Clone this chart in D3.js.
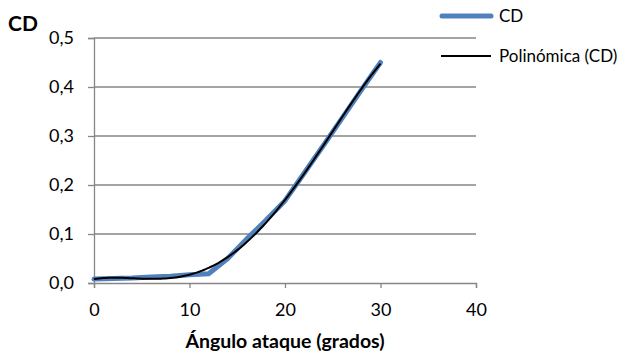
<!DOCTYPE html>
<html>
<head>
<meta charset="utf-8">
<script src="https://cdn.jsdelivr.net/npm/d3@7"></script>
<style>
  html, body { margin: 0; padding: 0; background: #fff; }
  svg { display: block; font-family: Lato, "Open Sans", sans-serif; }
</style>
</head>
<body>
<svg id="chart" width="621" height="356"></svg>
<script>
// Angle of attack (degrees) and measured drag coefficient
const angles = [0, 2, 4, 6, 8, 10, 12, 14, 16, 18, 20, 22, 24, 26, 28, 30];
const cdValues = [0.008, 0.009, 0.010, 0.012, 0.014, 0.017, 0.019, 0.050, 0.090, 0.128, 0.168, 0.224, 0.280, 0.337, 0.394, 0.450];
const xTicks = [0, 10, 20, 30, 40];
const yTicks = [0, 0.1, 0.2, 0.3, 0.4, 0.5];
const seriesName = "CD";
const trendName = "Polinómica (CD)";
const trendOrder = 4;

const svg = d3.select("#chart");
const x = d3.scaleLinear().domain([0, 40]).range([94, 476]);
const y = d3.scaleLinear().domain([0, 0.5]).range([283, 38]);
const fmt = v => d3.format(".1f")(v).replace(".", ",");
const gridColor = "#868686";

// horizontal gridlines
svg.append("g")
  .selectAll("line")
  .data(yTicks.slice(1))
  .join("line")
  .attr("x1", x(0)).attr("x2", x(40))
  .attr("y1", d => y(d)).attr("y2", d => y(d))
  .attr("stroke", gridColor).attr("stroke-width", 1.3);

// y axis
const yAxis = svg.append("g")
  .attr("transform", `translate(${x(0)},0)`)
  .call(d3.axisLeft(y).tickValues(yTicks).tickFormat(fmt).tickSize(6).tickPadding(14));
// x axis
const xAxis = svg.append("g")
  .attr("transform", `translate(0,${y(0)})`)
  .call(d3.axisBottom(x).tickValues(xTicks).tickFormat(d3.format("d")).tickSize(5).tickPadding(15));

[yAxis, xAxis].forEach(g => {
  g.select(".domain").attr("stroke", gridColor).attr("stroke-width", 1.3);
  g.selectAll(".tick line").attr("stroke", gridColor).attr("stroke-width", 1.3);
  g.selectAll(".tick text").attr("fill", "#000").attr("font-size", 18)
    .attr("font-family", "Lato, 'Open Sans', sans-serif");
});

// least-squares polynomial trendline from the measured points
function polyFit(xs, ys, order) {
  const s = 30; // scale x for numerical stability
  const n = order + 1;
  const A = Array.from({length: n}, () => new Array(n + 1).fill(0));
  xs.forEach((xv, k) => {
    const t = xv / s;
    for (let i = 0; i < n; i++) {
      for (let j = 0; j < n; j++) A[i][j] += Math.pow(t, i + j);
      A[i][n] += ys[k] * Math.pow(t, i);
    }
  });
  for (let c = 0; c < n; c++) {
    let p = c;
    for (let r = c + 1; r < n; r++) if (Math.abs(A[r][c]) > Math.abs(A[p][c])) p = r;
    [A[c], A[p]] = [A[p], A[c]];
    for (let r = 0; r < n; r++) {
      if (r === c) continue;
      const f = A[r][c] / A[c][c];
      for (let k = c; k <= n; k++) A[r][k] -= f * A[c][k];
    }
  }
  const coef = A.map((row, i) => row[n] / row[i]);
  return xv => coef.reduce((acc, c, i) => acc + c * Math.pow(xv / s, i), 0);
}
const trend = polyFit(angles, cdValues, trendOrder);
const trendPts = d3.range(0, 30.001, 0.25).map(a => [a, trend(a)]);

const data = angles.map((a, i) => [a, cdValues[i]]);
const line = d3.line().x(d => x(d[0])).y(d => y(d[1]));

svg.append("path").datum(data)
  .attr("d", line).attr("fill", "none")
  .attr("stroke", "#4F81BD").attr("stroke-width", 5)
  .attr("stroke-linejoin", "round").attr("stroke-linecap", "round");

svg.append("path").datum(trendPts)
  .attr("d", line).attr("fill", "none")
  .attr("stroke", "#000").attr("stroke-width", 2);

// axis titles
svg.append("text").attr("x", 8).attr("y", 31)
  .attr("font-size", 21).attr("font-weight", "bold").text(seriesName);
svg.append("text").attr("x", x(20)).attr("y", 348)
  .attr("text-anchor", "middle").attr("font-size", 19.5).attr("font-weight", "bold")
  .text("Ángulo ataque (grados)");

// legend
const legend = svg.append("g");
legend.append("line").attr("x1", 442).attr("x2", 491).attr("y1", 16).attr("y2", 16)
  .attr("stroke", "#4F81BD").attr("stroke-width", 5).attr("stroke-linecap", "round");
legend.append("text").attr("x", 499).attr("y", 22).attr("font-size", 17).text(seriesName);
legend.append("line").attr("x1", 441).attr("x2", 491).attr("y1", 56).attr("y2", 56)
  .attr("stroke", "#000").attr("stroke-width", 2);
legend.append("text").attr("x", 499).attr("y", 62).attr("font-size", 17).text(trendName);
</script>
</body>
</html>
